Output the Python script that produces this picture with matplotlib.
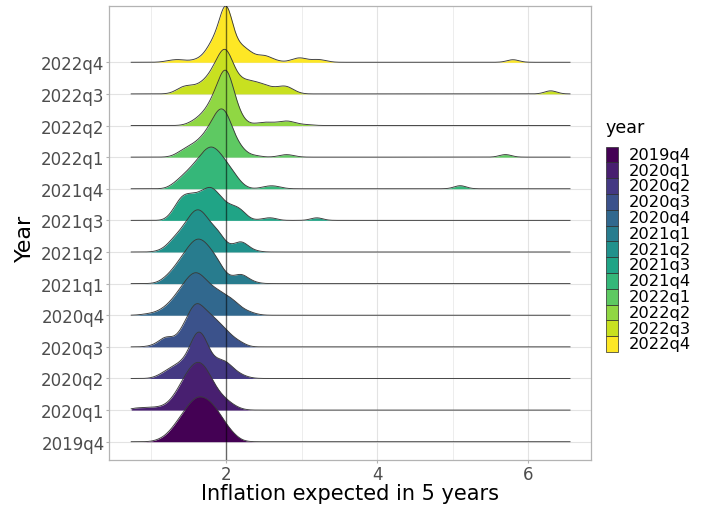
import matplotlib
matplotlib.use("Agg")
import matplotlib.pyplot as plt
import numpy as np
from matplotlib.patches import Rectangle
from matplotlib.transforms import Bbox, TransformedBbox

# survey quarters, bottom to top
quarters = ["2019q4", "2020q1", "2020q2", "2020q3", "2020q4", "2021q1", "2021q2",
            "2021q3", "2021q4", "2022q1", "2022q2", "2022q3", "2022q4"]

# answers (inflation expected in 5 years, %) and how many answers at each value
vals_2019q4 = [1.1, 1.2, 1.3, 1.4, 1.5, 1.6, 1.7, 1.8, 1.9, 2.0, 2.1, 2.2]
cnt_2019q4 = [2, 6, 15, 26, 37, 46, 45, 40, 30, 17, 8, 1]

vals_2020q1 = [0.8, 0.9, 1.0, 1.1, 1.2, 1.3, 1.4, 1.5, 1.6, 1.7, 1.8, 1.9, 2.0, 2.1, 2.2]
cnt_2020q1 = [3, 2, 3, 3, 5, 13, 27, 41, 50, 48, 32, 18, 11, 5, 1]

vals_2020q2 = [1.1, 1.2, 1.3, 1.4, 1.5, 1.6, 1.7, 1.8, 1.9, 2.0, 2.1, 2.2, 2.3]
cnt_2020q2 = [3, 8, 13, 16, 25, 53, 48, 20, 19, 19, 9, 4, 1]

vals_2020q3 = [1.0, 1.1, 1.2, 1.3, 1.4, 1.5, 1.6, 1.7, 1.8, 1.9, 2.0, 2.1, 2.2]
cnt_2020q3 = [1, 4, 14, 6, 16, 33, 50, 38, 32, 25, 17, 9, 5]

vals_2020q4 = [0.9, 1.0, 1.1, 1.2, 1.3, 1.4, 1.5, 1.6, 1.7, 1.8, 1.9, 2.0, 2.1, 2.2, 2.3, 2.4]
cnt_2020q4 = [1, 2, 4, 9, 17, 28, 39, 46, 38, 29, 25, 20, 16, 7, 4, 1]

vals_2021q1 = [1.1, 1.2, 1.3, 1.4, 1.5, 1.6, 1.7, 1.8, 1.9, 2.0, 2.1, 2.2, 2.3, 2.4]
cnt_2021q1 = [1, 7, 15, 26, 37, 47, 44, 34, 24, 7, 6, 13, 4, 1]

vals_2021q2 = [1.1, 1.2, 1.3, 1.4, 1.5, 1.6, 1.7, 1.8, 1.9, 2.0, 2.1, 2.2, 2.3, 2.4]
cnt_2021q2 = [1, 5, 15, 22, 34, 46, 41, 26, 24, 6, 6, 15, 4, 1]

vals_2021q3 = [1.3, 1.4, 1.5, 1.6, 1.7, 1.8, 1.9, 2.0, 2.1, 2.2, 2.3, 2.5, 2.6, 3.2]
cnt_2021q3 = [10, 27, 27, 26, 30, 37, 26, 16, 15, 13, 1, 2, 4, 5]

vals_2021q4 = [1.3, 1.4, 1.5, 1.6, 1.7, 1.8, 1.9, 2.0, 2.1, 2.2, 2.5, 2.6, 2.7, 5.1]
cnt_2021q4 = [5, 12, 19, 27, 38, 45, 38, 27, 17, 5, 2, 4, 2, 6]

vals_2022q1 = [1.3, 1.4, 1.5, 1.6, 1.7, 1.8, 1.9, 2.0, 2.1, 2.2, 2.3, 2.4, 2.7, 2.8, 2.9, 5.7]
cnt_2022q1 = [1, 7, 11, 15, 22, 34, 52, 51, 22, 10, 2, 2, 1, 4, 1, 5]

vals_2022q2 = [1.5, 1.6, 1.7, 1.8, 1.9, 2.0, 2.1, 2.2, 2.3, 2.4, 2.5, 2.6, 2.7, 2.8, 2.9, 3.0, 3.1]
cnt_2022q2 = [2, 7, 13, 25, 44, 72, 32, 8, 1, 2, 4, 3, 3, 6, 3, 1, 1]

vals_2022q3 = [1.3, 1.4, 1.5, 1.6, 1.7, 1.8, 1.9, 2.0, 2.1, 2.2, 2.3, 2.4, 2.5, 2.6, 2.7, 2.8, 2.9, 6.3]
cnt_2022q3 = [1, 8, 9, 8, 13, 22, 39, 56, 24, 14, 14, 12, 10, 6, 7, 10, 3, 6]

vals_2022q4 = [1.2, 1.3, 1.4, 1.5, 1.6, 1.7, 1.8, 1.9, 2.0, 2.1, 2.2, 2.3, 2.4, 2.5, 2.6, 2.7,
               2.9, 3.0, 3.1, 3.2, 3.3, 5.8]
cnt_2022q4 = [1, 3, 3, 1, 3, 6, 22, 30, 86, 20, 18, 12, 5, 9, 4, 1, 4, 6, 1, 4, 2, 5]

all_vals = [vals_2019q4, vals_2020q1, vals_2020q2, vals_2020q3, vals_2020q4, vals_2021q1,
            vals_2021q2, vals_2021q3, vals_2021q4, vals_2022q1, vals_2022q2, vals_2022q3,
            vals_2022q4]
all_cnt = [cnt_2019q4, cnt_2020q1, cnt_2020q2, cnt_2020q3, cnt_2020q4, cnt_2021q1,
           cnt_2021q2, cnt_2021q3, cnt_2021q4, cnt_2022q1, cnt_2022q2, cnt_2022q3,
           cnt_2022q4]

BW = 0.08        # kernel bandwidth
SCALE = 1.78     # tallest ridge, in rows
xs = np.linspace(0.74, 6.556, 512)


def smooth(vals, cnt):
    v = np.asarray(vals, float)
    c = np.asarray(cnt, float)
    k = np.exp(-0.5 * ((xs[:, None] - v[None, :]) / BW) ** 2)
    return k @ c


dens = [smooth(v, c) for v, c in zip(all_vals, all_cnt)]
top = max(d.max() for d in dens)
colors = plt.cm.viridis(np.linspace(0, 1, len(quarters)))

fig = plt.figure(figsize=(7.07, 5.06), dpi=100)
fig.patch.set_facecolor("white")
ax = fig.add_axes([0.1542, 0.0889, 0.6813, 0.8973])

grid_col = "#e3e3e3"
for gx in [1, 3, 5]:
    ax.axvline(gx, color=grid_col, lw=0.45, zorder=0)
for gx in [2, 4, 6]:
    ax.axvline(gx, color=grid_col, lw=0.8, zorder=0)
for i in range(len(quarters)):
    ax.axhline(i + 1, color=grid_col, lw=0.8, zorder=0)

# top ridge first so lower ones sit on top
for i in range(len(quarters) - 1, -1, -1):
    y0 = i + 1
    h = dens[i] / top * SCALE
    z = 10 + (len(quarters) - i)
    ax.fill_between(xs, y0, y0 + h, color=colors[i], lw=0, zorder=z)
    ax.plot(xs, y0 + h, color="#3a3a3a", lw=0.65, zorder=z + 0.5)

ax.axvline(2, color="black", alpha=0.55, lw=1.0, zorder=60)

ax.set_xlim(0.446, 6.83)
ax.set_ylim(0.421, 14.78)
ax.set_xticks([2, 4, 6])
ax.set_xticklabels(["2", "4", "6"])
ax.set_yticks(np.arange(1, len(quarters) + 1))
ax.set_yticklabels(quarters)
ax.tick_params(axis="both", labelsize=12, labelcolor="#4d4d4d", color="#b3b3b3",
               length=2.2, width=0.8)
ax.tick_params(axis="y", pad=1)
ax.tick_params(axis="x", pad=1.5)
for s in ax.spines.values():
    s.set_color("#b3b3b3")
    s.set_linewidth(0.9)

fig.text(350 / 707, 1 - 500 / 506, "Inflation expected in 5 years", fontsize=15,
         ha="center", va="baseline", color="black")
fig.text(25 / 707, 1 - 238 / 506, "Year", fontsize=16, rotation=90,
         ha="center", va="center", color="black")

# legend (its right edge is cut off in the original)
W, H = 707.0, 506.0
cut = TransformedBbox(Bbox([[0, 0], [691 / W, 1]]), fig.transFigure)
fig.text(605 / W, 1 - 132.7 / H, "year", fontsize=12.6, ha="left", va="baseline",
         color="black")
key_top, key_h = 147.5, 15.8
for i, q in enumerate(quarters):
    yt = key_top + i * key_h
    fig.add_artist(Rectangle((606 / W, 1 - (yt + key_h) / H), 11.5 / W, key_h / H,
                             transform=fig.transFigure, facecolor=colors[i],
                             edgecolor="#2b2b2b", lw=0.5))
    t = fig.text(629 / W, 1 - (yt + key_h / 2) / H, q, fontsize=11.7, ha="left",
                 va="center", color="black")
    t.set_clip_box(cut)
    t.set_clip_on(True)

plt.savefig("out.png", dpi=100, facecolor="white")
plt.close()
